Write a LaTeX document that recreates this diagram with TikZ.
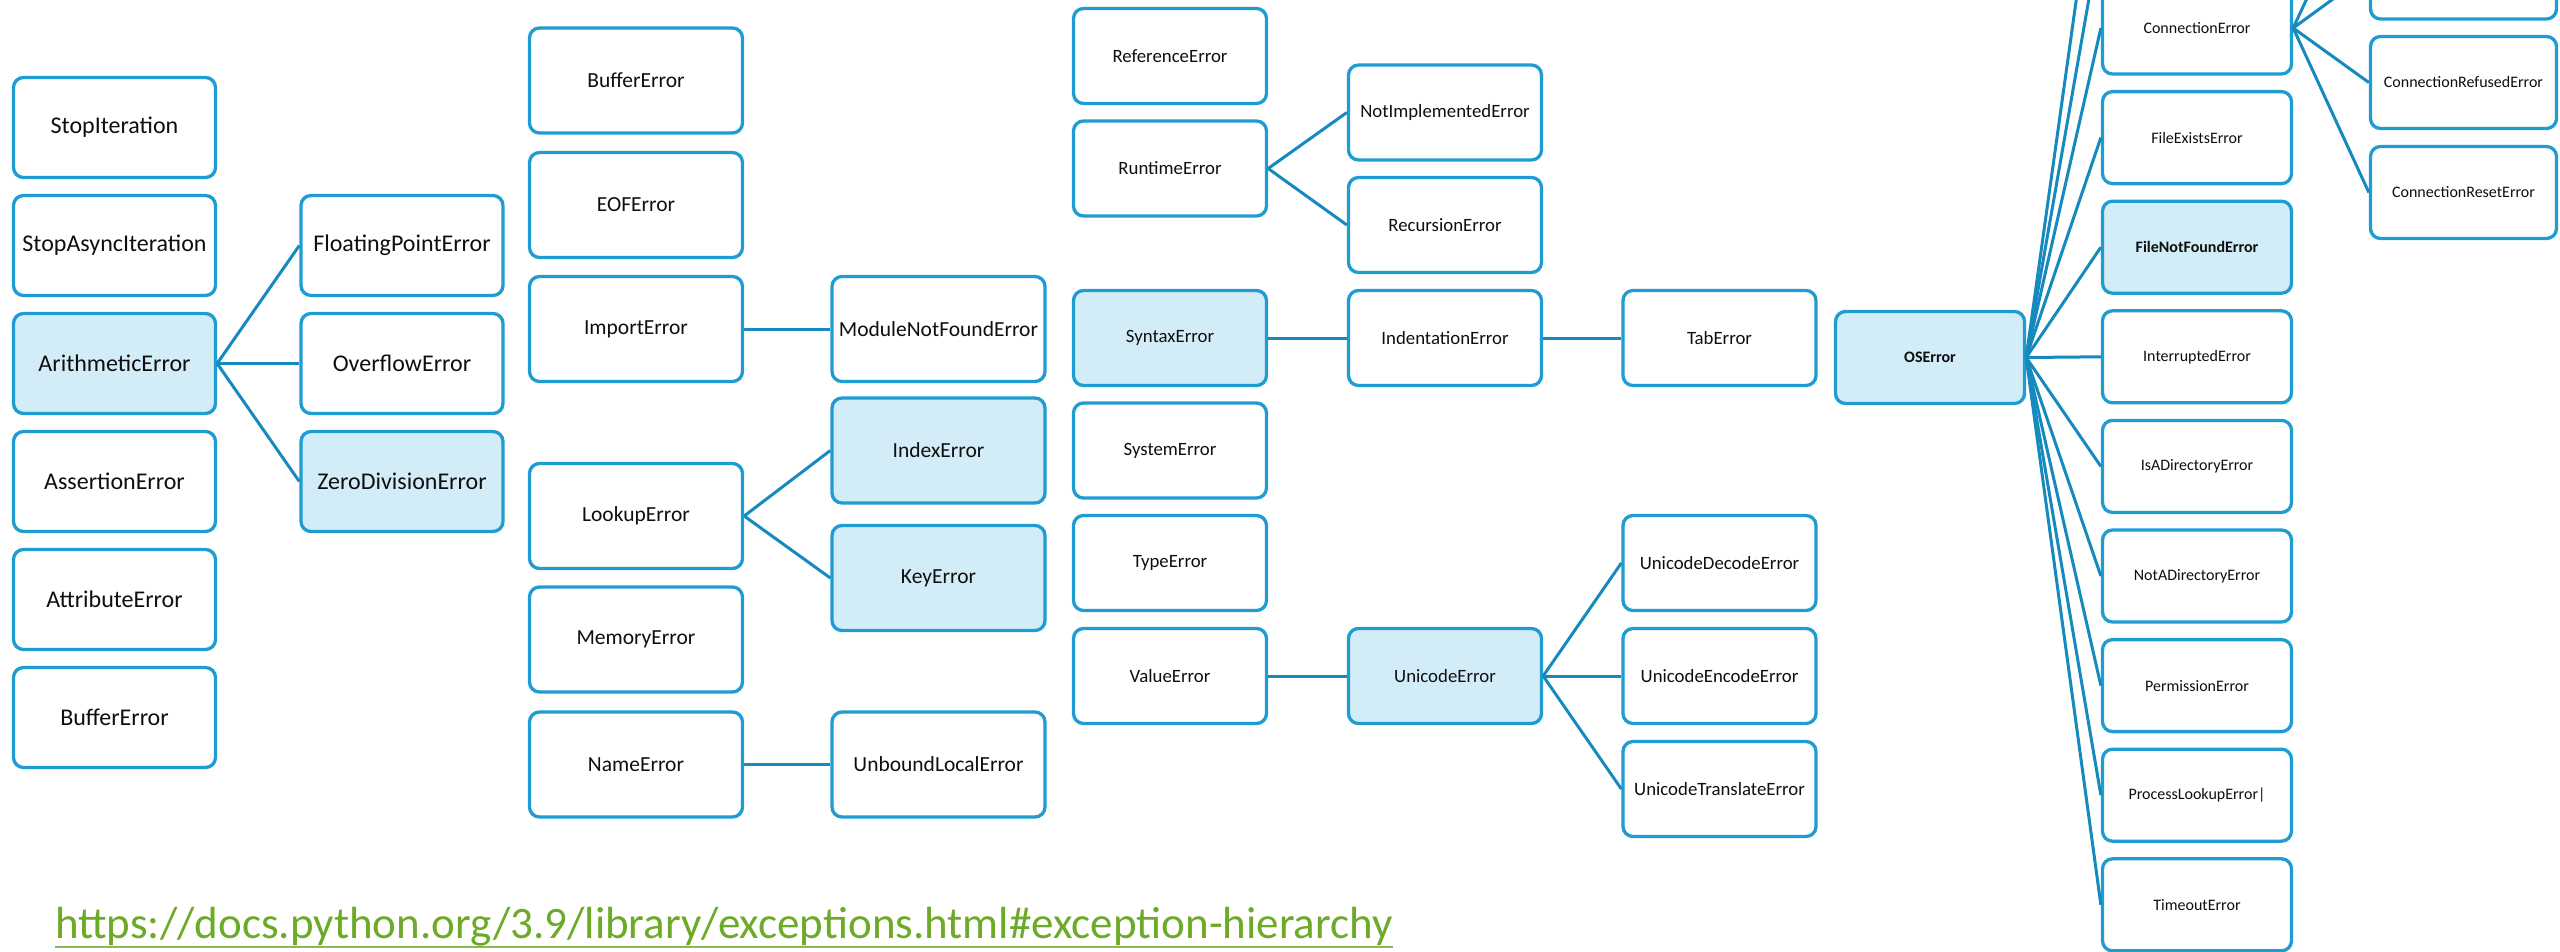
\documentclass[tikz,border=0pt]{standalone}
\usepackage{fontspec}
\setmainfont{Carlito}
\usepackage{tikz}
\usetikzlibrary{positioning}
\definecolor{boxblue}{RGB}{31,156,210}
\definecolor{lineblue}{RGB}{22,138,190}
\definecolor{fillblue}{RGB}{211,237,248}
\definecolor{urlgreen}{RGB}{108,170,40}
\definecolor{txtgray}{RGB}{15,15,15}

\begin{document}
\begin{tikzpicture}[x=1pt,y=-1pt,
  box/.style={draw=boxblue, line width=3.3pt, rounded corners=10pt, fill=white,
    text=txtgray, inner sep=0pt, align=center},
  hl/.style={box, fill=fillblue},
  colA/.style={minimum width=202pt, minimum height=100pt, font=\fontsize{24}{28}\selectfont},
  colC/.style={minimum width=213pt, minimum height=105pt, font=\fontsize{21.5}{25}\selectfont},
  colE/.style={minimum width=193pt, minimum height=95pt, font=\fontsize{18.8}{22}\selectfont},
  colH/.style={minimum width=189pt, minimum height=92pt, font=\fontsize{16}{19}\selectfont},
  link/.style={draw=lineblue, line width=3pt}]
\useasboundingbox (0,0) rectangle (2560,951);
\clip (0,0) rectangle (2560,951);

% first column
\node[box,colA] (stopit) at (114.5,127.5) {StopIteration};
\node[box,colA] (stopasync) at (114.5,245.5) {StopAsyncIteration};
\node[hl,colA] (arith) at (114.5,363.5) {ArithmeticError};
\node[box,colA] (assert) at (114.5,481.5) {AssertionError};
\node[box,colA] (attr) at (114.5,599.5) {AttributeError};
\node[box,colA] (bufA) at (114.5,717.5) {BufferError};
% arithmetic children
\node[box,colA] (floatpt) at (402,245.5) {FloatingPointError};
\node[box,colA] (overflow) at (402,363.5) {OverflowError};
\node[hl,colA] (zerodiv) at (402,481.5) {ZeroDivisionError};
\draw[link] (arith.east) -- (floatpt.west);
\draw[link] (arith.east) -- (overflow.west);
\draw[link] (arith.east) -- (zerodiv.west);

% third column
\node[box,colC] (bufC) at (636,80.5) {BufferError};
\node[box,colC] (eof) at (636,205) {EOFError};
\node[box,colC] (import) at (636,329) {ImportError};
\node[box,colC] (lookup) at (636,516) {LookupError};
\node[box,colC] (memory) at (636,639.5) {MemoryError};
\node[box,colC] (name) at (636,764.5) {NameError};
\node[box,colC] (modnf) at (938.5,329) {ModuleNotFoundError};
\node[hl,colC] (index) at (938.5,450.5) {IndexError};
\node[hl,colC] (key) at (938.5,578) {KeyError};
\node[box,colC] (unbound) at (938.5,764.5) {UnboundLocalError};
\draw[link] (import.east) -- (modnf.west);
\draw[link] (lookup.east) -- (index.west);
\draw[link] (lookup.east) -- (key.west);
\draw[link] (name.east) -- (unbound.west);

% fifth column
\node[box,colE] (reference) at (1170,56) {ReferenceError};
\node[box,colE] (runtime) at (1170,168.5) {RuntimeError};
\node[hl,colE] (syntax) at (1170,338) {SyntaxError};
\node[box,colE] (system) at (1170,450.5) {SystemError};
\node[box,colE] (type) at (1170,563) {TypeError};
\node[box,colE] (value) at (1170,676) {ValueError};
\node[box,colE] (notimpl) at (1445,112.5) {NotImplementedError};
\node[box,colE] (recursion) at (1445,225) {RecursionError};
\node[box,colE] (indent) at (1445,338) {IndentationError};
\node[hl,colE] (unicode) at (1445,676) {UnicodeError};
\node[box,colE] (tab) at (1719.5,338) {TabError};
\node[box,colE] (decode) at (1719.5,563) {UnicodeDecodeError};
\node[box,colE] (encode) at (1719.5,676) {UnicodeEncodeError};
\node[box,colE] (translate) at (1719.5,789) {UnicodeTranslateError};
\draw[link] (runtime.east) -- (notimpl.west);
\draw[link] (runtime.east) -- (recursion.west);
\draw[link] (syntax.east) -- (indent.west);
\draw[link] (indent.east) -- (tab.west);
\draw[link] (value.east) -- (unicode.west);
\draw[link] (unicode.east) -- (decode.west);
\draw[link] (unicode.east) -- (encode.west);
\draw[link] (unicode.east) -- (translate.west);

% OSError and its children
\node[hl,colH] (os) at (1930,357.5) {\textbf{OSError}};
\coordinate (blocking) at (2103,-191.2);
\coordinate (childproc) at (2103,-81.6);
\node[box,colH] (conn) at (2197,28) {ConnectionError};
\node[box,colH] (exists) at (2197,137.6) {FileExistsError};
\node[hl,colH] (notfound) at (2197,247.2) {\textbf{FileNotFoundError}};
\node[box,colH] (interrupted) at (2197,356.8) {InterruptedError};
\node[box,colH] (isdir) at (2197,466.4) {IsADirectoryError};
\node[box,colH] (notdir) at (2197,576) {NotADirectoryError};
\node[box,colH] (permission) at (2197,685.6) {PermissionError};
\node[box,colH] (process) at (2197,795.2) {ProcessLookupError|};
\node[box,colH] (timeout) at (2197,904.8) {TimeoutError};
\draw[link] (os.east) -- (blocking);
\draw[link] (os.east) -- (childproc);
\draw[link] (os.east) -- (conn.west);
\draw[link] (os.east) -- (exists.west);
\draw[link] (os.east) -- (notfound.west);
\draw[link] (os.east) -- (interrupted.west);
\draw[link] (os.east) -- (isdir.west);
\draw[link] (os.east) -- (notdir.west);
\draw[link] (os.east) -- (permission.west);
\draw[link] (os.east) -- (process.west);
\draw[link] (os.east) -- (timeout.west);

% connection children
\coordinate (brokenpipe) at (2370,-137);
\node[box,colH,minimum width=186pt] (aborted) at (2463.5,-27) {};
\node[box,colH,minimum width=186pt] (refused) at (2463.5,82.5) {ConnectionRefusedError};
\node[box,colH,minimum width=186pt] (reset) at (2463.5,192.5) {ConnectionResetError};
\draw[link] (conn.east) -- (brokenpipe);
\draw[link] (conn.east) -- (aborted.west);
\draw[link] (conn.east) -- (refused.west);
\draw[link] (conn.east) -- (reset.west);

\node[anchor=base west, text=urlgreen, inner sep=0pt, font=\fontsize{45}{50}\selectfont] (url) at (55,938)
  {https://docs.python.org/3.9/library/exceptions.html\#exception-hierarchy};
\draw[urlgreen!80, line width=2pt] ([yshift=-9pt]url.base west) -- ([yshift=-9pt]url.base east);
\end{tikzpicture}
\end{document}
